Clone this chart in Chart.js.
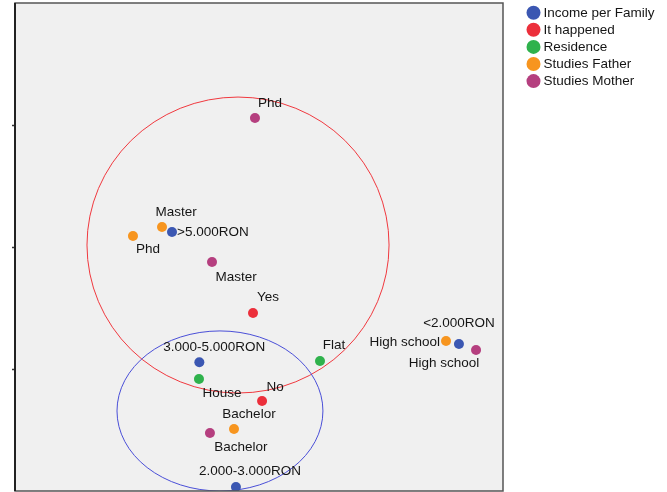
<!DOCTYPE html>
<html>
<head>
<meta charset="utf-8">
<script src="https://cdn.jsdelivr.net/npm/chart.js@4.4.1/dist/chart.umd.min.js"></script>
<style>
  body { margin: 0; background: #fff; }
  canvas { display: block; }
</style>
</head>
<body>
<canvas id="plot" width="667" height="492"></canvas>
<script>
// category points (dimension 1 / dimension 2)
const incomeLabels = ['>5.000RON', '3.000-5.000RON', '2.000-3.000RON', '<2.000RON'];
const incomeX = [-0.713, -0.489, -0.189, 1.639];
const incomeY = [0.123, -0.945, -1.967, -0.795];

const happenedLabels = ['Yes', 'No'];
const happenedX = [-0.049, 0.025];
const happenedY = [-0.541, -1.262];

const residenceLabels = ['Flat', 'House'];
const residenceX = [0.500, -0.492];
const residenceY = [-0.934, -1.082];

const fatherLabels = ['Master', 'Phd', 'Bachelor', 'High school'];
const fatherX = [-0.795, -1.033, -0.205, 1.533];
const fatherY = [0.164, 0.090, -1.492, -0.770];

const motherLabels = ['Phd', 'Master', 'Bachelor', 'High school'];
const motherX = [-0.033, -0.385, -0.402, 1.779];
const motherY = [1.057, -0.123, -1.525, -0.844];

// group ellipses: centre x, centre y, radius x, radius y
const redGroup = [-0.172, 0.016, 1.238, 1.213];
const blueGroup = [-0.320, -1.344, 0.844, 0.656];

const yTickValues = [-1, 0, 1];

// label placement per point: dx, dy (px), align
const labelPlacement = [
  [[5, 0, 'left'], [15, -15, 'center'], [14, -16, 'center'], [0, -21, 'center']],
  [[15, -16, 'center'], [13, -14, 'center']],
  [[14, -16, 'center'], [23, 14, 'center']],
  [[14, -15, 'center'], [15, 13, 'center'], [15, -15, 'center'], [-6, 1, 'right']],
  [[15, -15, 'center'], [24, 15, 'center'], [31, 14, 'center'], [-32, 13, 'center']]
];

const FONT = '13.5px "Liberation Sans", Arial, sans-serif';

function pts(xs, ys) {
  return xs.map((x, i) => ({ x: x, y: ys[i] }));
}

function series(name, color, xs, ys, labels) {
  return {
    label: name,
    data: pts(xs, ys),
    pointLabels: labels,
    backgroundColor: color,
    borderWidth: 0,
    pointRadius: 5,
    pointHoverRadius: 5
  };
}

const ellipsePlugin = {
  id: 'ellipses',
  beforeDraw(chart) {
    const a = chart.chartArea, ctx = chart.ctx;
    ctx.save();
    ctx.fillStyle = '#f0f0f0';
    ctx.fillRect(a.left, a.top, a.right - a.left, a.bottom - a.top);
    ctx.restore();
  },
  beforeDatasetsDraw(chart) {
    const a = chart.chartArea, ctx = chart.ctx;
    const xs = chart.scales.x, ys = chart.scales.y;
    ctx.save();
    ctx.beginPath();
    ctx.rect(a.left, a.top, a.right - a.left, a.bottom - a.top);
    ctx.clip();
    [[redGroup, '#f0393f'], [blueGroup, '#4a4fd8']].forEach(([g, col]) => {
      const cx = xs.getPixelForValue(g[0]);
      const cy = ys.getPixelForValue(g[1]);
      const rx = Math.abs(xs.getPixelForValue(g[0] + g[2]) - cx);
      const ry = Math.abs(ys.getPixelForValue(g[1] + g[3]) - cy);
      ctx.beginPath();
      ctx.ellipse(cx, cy, rx, ry, 0, 0, Math.PI * 2);
      ctx.strokeStyle = col;
      ctx.lineWidth = 1;
      ctx.stroke();
    });
    ctx.restore();
  },
  afterDatasetsDraw(chart) {
    const ctx = chart.ctx;
    ctx.save();
    ctx.font = FONT;
    ctx.fillStyle = '#151515';
    ctx.textBaseline = 'middle';
    chart.data.datasets.forEach((ds, di) => {
      const meta = chart.getDatasetMeta(di);
      meta.data.forEach((el, i) => {
        const p = labelPlacement[di][i];
        ctx.textAlign = p[2];
        ctx.fillText(ds.pointLabels[i], el.x + p[0], el.y + p[1]);
      });
    });
    ctx.restore();
  },
  afterDraw(chart) {
    const a = chart.chartArea, ctx = chart.ctx;
    ctx.save();
    ctx.strokeStyle = '#555';
    ctx.lineWidth = 1.5;
    ctx.strokeRect(a.left, a.top, a.right - a.left, a.bottom - a.top);
    ctx.strokeStyle = '#222';
    ctx.lineWidth = 2;
    ctx.beginPath();
    ctx.moveTo(a.left, a.top);
    ctx.lineTo(a.left, a.bottom);
    ctx.stroke();
    // legend
    ctx.font = FONT;
    ctx.textBaseline = 'middle';
    ctx.textAlign = 'left';
    chart.data.datasets.forEach((ds, i) => {
      const y = 12.7 + i * 17.1;
      ctx.beginPath();
      ctx.arc(a.right + 30.5, y, 7, 0, Math.PI * 2);
      ctx.fillStyle = ds.backgroundColor;
      ctx.fill();
      ctx.fillStyle = '#151515';
      ctx.fillText(ds.label, a.right + 40.5, y + 0.5);
    });
    ctx.restore();
  }
};

new Chart(document.getElementById('plot').getContext('2d'), {
  type: 'scatter',
  data: {
    datasets: [
      series('Income per Family', '#3b57b2', incomeX, incomeY, incomeLabels),
      series('It happened', '#ec2f3b', happenedX, happenedY, happenedLabels),
      series('Residence', '#2fb24c', residenceX, residenceY, residenceLabels),
      series('Studies Father', '#f7951f', fatherX, fatherY, fatherLabels),
      series('Studies Mother', '#b53f7f', motherX, motherY, motherLabels)
    ]
  },
  options: {
    responsive: false,
    animation: false,
    layout: { autoPadding: false, padding: { left: 12, top: 3, right: 164, bottom: 1 } },
    plugins: {
      legend: { display: false },
      tooltip: { enabled: false }
    },
    scales: {
      x: {
        type: 'linear',
        display: false,
        min: -2,
        max: 2
      },
      y: {
        type: 'linear',
        min: -2,
        max: 2,
        afterBuildTicks: (s) => { s.ticks = yTickValues.map(v => ({ value: v })); },
        ticks: { display: false },
        grid: { drawOnChartArea: false, drawTicks: true, tickLength: 3, color: '#333', tickWidth: 1.5 },
        border: { display: false }
      }
    }
  },
  plugins: [ellipsePlugin]
});
</script>
</body>
</html>
